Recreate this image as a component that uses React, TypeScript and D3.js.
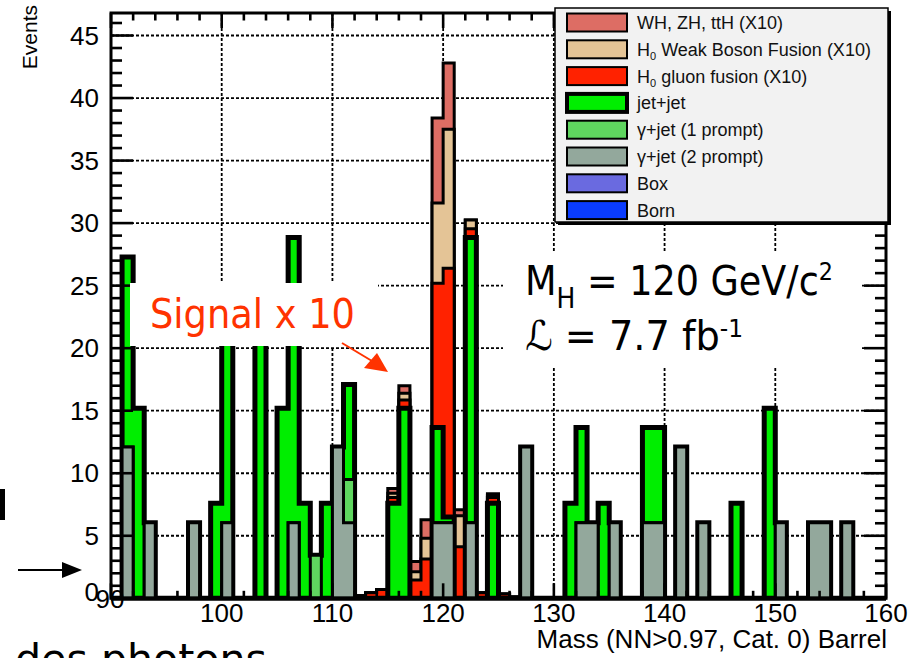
import React from 'react';
import * as d3 from 'd3';

// Diphoton invariant mass, 1 GeV bins from 90 to 160 GeV
const massMin = 90;
const massMax = 160;
const binLows = d3.range(massMin, massMax);

// [bin low edge (GeV), events] — empty bins omitted; signal already scaled x10
type Entry = [number, number];
const bornEvents: Entry[] = [];
const boxEvents: Entry[] = [];
const gammaJet2PromptEvents: Entry[] = [
  [91, 12.1], [93, 6.05], [97, 6.05], [100, 6.05], [106, 6.05], [110, 12.1], [111, 6.05],
  [119, 6.05], [120, 6.05], [122, 6.05], [127, 12.1], [132, 6.05], [133, 6.05], [135, 6.05],
  [138, 6.05], [139, 6.05], [141, 12.1], [143, 6.05], [150, 6.05], [153, 6.05], [154, 6.05],
  [156, 6.05],
];
const gammaJet1PromptEvents: Entry[] = [[108, 3.45], [111, 3.45]];
const jetJetEvents: Entry[] = [
  [91, 15.2], [92, 15.2], [99, 7.6], [100, 15.2], [103, 22.8], [105, 15.2], [106, 22.8],
  [107, 7.6], [109, 7.6], [111, 7.6], [115, 7.6], [116, 15.2], [119, 7.6], [120, 0.45],
  [122, 22.8], [124, 7.6], [131, 7.6], [132, 7.6], [134, 7.6], [138, 7.6], [139, 7.6],
  [146, 7.6], [149, 15.2],
];
const gluonFusionEvents: Entry[] = [
  [112, 0.2], [113, 0.45], [114, 0.7], [115, 0.45], [116, 0.65], [117, 1.46], [118, 3.14],
  [119, 11.55], [120, 19.9], [121, 4.13], [122, 0.7], [123, 0.45], [124, 0.45], [125, 0.35],
  [126, 0.1],
];
const weakBosonFusionEvents: Entry[] = [
  [115, 0.35], [116, 0.55], [117, 0.67], [118, 1.66], [119, 6.4], [120, 11.1], [121, 2.47],
  [122, 0.7], [124, 0.15],
];
const associatedEvents: Entry[] = [
  [115, 0.37], [116, 0.6], [117, 0.81], [118, 1.48], [119, 6.8], [120, 5.3], [121, 0.48],
  [124, 0.15],
];

const yTickLabels = [0, 5, 10, 15, 20, 25, 30, 35, 40, 45];
const xTickLabels = [90, 100, 110, 120, 130, 140, 150, 160];

// Stack order, bottom to top
const components = [
  { label: 'Born', color: '#0a3cff', line: 3, events: bornEvents },
  { label: 'Box', color: '#6a6ae0', line: 3, events: boxEvents },
  { label: 'γ+jet (2 prompt)', color: '#93a89c', line: 3, events: gammaJet2PromptEvents },
  { label: 'γ+jet (1 prompt)', color: '#5fd65f', line: 3, events: gammaJet1PromptEvents },
  { label: 'jet+jet', color: '#00ee00', line: 5, events: jetJetEvents },
  { label: 'H_0 gluon fusion (X10)', color: '#ff2200', line: 3, events: gluonFusionEvents },
  { label: 'H_0 Weak Boson Fusion (X10)', color: '#e4c496', line: 3, events: weakBosonFusionEvents },
  { label: 'WH, ZH, ttH (X10)', color: '#dd6d64', line: 3, events: associatedEvents },
];

const perBin = (entries: Entry[]) => {
  const m = new Map(entries);
  return binLows.map((b) => m.get(b) ?? 0);
};

const helv = "'Liberation Sans', Arial, Helvetica, sans-serif";
const slideFont = "'DejaVu Sans Condensed', 'DejaVu Sans', Verdana, sans-serif";

function LegendLabel({ text, x, y }: { text: string; x: number; y: number }) {
  if (text.startsWith('H_0')) {
    return (
      <text x={x} y={y} fontFamily={helv} fontSize={18} fill="#111">
        H
        <tspan fontSize={11} dy={4}>0</tspan>
        <tspan dy={-4}>{text.slice(3)}</tspan>
      </text>
    );
  }
  return (
    <text x={x} y={y} fontFamily={helv} fontSize={18} fill="#111">
      {text}
    </text>
  );
}

export default function App() {
  const x = d3.scaleLinear().domain([massMin, massMax]).range([111, 886]);
  const y = d3.scaleLinear().domain([0, 46.8]).range([598.3, 13]);

  // cumulative sums, bottom to top
  const cumulative: number[][] = [];
  let running = binLows.map(() => 0);
  components.forEach((c) => {
    const v = perBin(c.events);
    running = running.map((r, i) => r + v[i]);
    cumulative.push(running);
  });

  const area = d3
    .area<[number, number]>()
    .x((d) => x(d[0]))
    .y0(y(0))
    .y1((d) => y(d[1]))
    .curve(d3.curveStepAfter);

  const layers = components
    .map((c, k) => {
      const pts: [number, number][] = binLows.map((b, i) => [b, cumulative[k][i]]);
      pts.push([massMax, cumulative[k][binLows.length - 1]]);
      return { c, d: area(pts) as string };
    })
    .reverse();

  const [x0, x1] = x.range();
  const [y0, y1] = y.range();

  const yTicks = d3.range(0, 47);
  const xTicks = d3.range(massMin, massMax + 1, 2);
  const gridY = yTickLabels.filter((v) => v > 0);
  const gridX = xTickLabels.filter((v) => v > massMin && v < massMax);

  const legendRows = [...components].reverse();
  const lgX = 555, lgY = 8, lgW = 333, lgH = 214;

  return (
    <svg
      width={921}
      height={658}
      style={{ position: 'absolute', left: 0, top: 0, display: 'block', background: '#fff' }}
    >
      <rect x={0} y={0} width={921} height={658} fill="#fff" />

      {/* grid */}
      <g stroke="#000" strokeWidth={1.8} strokeDasharray="3 2">
        {gridY.map((v) => (
          <line key={'gy' + v} x1={x0} x2={x1} y1={y(v)} y2={y(v)} />
        ))}
        {gridX.map((v) => (
          <line key={'gx' + v} x1={x(v)} x2={x(v)} y1={y1} y2={y0} />
        ))}
      </g>

      {/* stacked histogram, drawn from the full sum downwards */}
      {layers.map(({ c, d }) => (
        <path
          key={c.label}
          d={d}
          fill={c.color}
          stroke="#000"
          strokeWidth={c.line}
          strokeLinejoin="miter"
        />
      ))}

      {/* frame and ticks */}
      <g stroke="#000" strokeWidth={2.6}>
        {yTicks.map((v) => {
          const len = v % 5 === 0 ? 22 : 11;
          return (
            <g key={'yt' + v}>
              <line x1={x0} x2={x0 + len} y1={y(v)} y2={y(v)} />
              <line x1={x1} x2={x1 - len} y1={y(v)} y2={y(v)} />
            </g>
          );
        })}
        {xTicks.map((v) => {
          const len = v % 10 === 0 ? 15 : 7.5;
          return (
            <g key={'xt' + v}>
              <line x1={x(v)} x2={x(v)} y1={y0} y2={y0 - len} />
              <line x1={x(v)} x2={x(v)} y1={y1} y2={y1 + len} />
            </g>
          );
        })}
        <rect x={x0} y={y1} width={x1 - x0} height={y0 - y1} fill="none" strokeWidth={3} />
      </g>

      {/* tick labels */}
      <g fontFamily={helv} fontSize={26} fill="#000">
        {yTickLabels.map((v) => (
          <text key={'yl' + v} x={99} y={v === 0 ? y(v) + 3 : y(v) + 9} textAnchor="end">
            {v}
          </text>
        ))}
        {xTickLabels.map((v) => (
          <text key={'xl' + v} x={v === massMin ? x(v) - 1 : x(v)} y={v === massMin ? 608 : 622} textAnchor="middle">
            {v}
          </text>
        ))}
      </g>
      <text
        transform="translate(37,5) rotate(-90)"
        textAnchor="end"
        fontFamily={helv}
        fontSize={21}
        fill="#000"
      >
        Events
      </text>
      <text x={887} y={648} textAnchor="end" fontFamily={helv} fontSize={26} fill="#000">
        Mass (NN&gt;0.97, Cat. 0) Barrel
      </text>

      {/* legend */}
      <rect x={lgX + 3} y={lgY + 3} width={lgW} height={lgH} fill="#000" />
      <rect x={lgX} y={lgY} width={lgW} height={lgH} fill="#f2f2f2" stroke="#000" strokeWidth={1.5} />
      {legendRows.map((c, i) => {
        const cy = 22.5 + i * 26.8;
        return (
          <g key={'lg' + c.label}>
            <rect
              x={567}
              y={cy - 9}
              width={60}
              height={18}
              fill={c.color}
              stroke="#000"
              strokeWidth={c.line > 3 ? 4 : 2}
            />
            <LegendLabel text={c.label} x={637} y={cy + 6.5} />
          </g>
        );
      })}

      {/* annotations */}
      <rect x={130} y={283} width={248} height={63} fill="#fff" />
      <text
        x={150}
        y={328}
        fontFamily={slideFont}
        fontSize={41}
        fill="#ff3300"
        textLength={205}
        lengthAdjust="spacingAndGlyphs"
      >
        Signal x 10
      </text>
      <line x1={342} y1={343} x2={372} y2={361} stroke="#ff3300" strokeWidth={2} />
      <path d="M388,372 L364,368 L377,353 Z" fill="#ff3300" />

      <rect x={503} y={253} width={359} height={115} fill="#fff" />
      <text
        x={525}
        y={295}
        fontFamily={slideFont}
        fontSize={41}
        fill="#000"
        textLength={308}
        lengthAdjust="spacingAndGlyphs"
      >
        M
        <tspan fontSize={28} dy={13}>H</tspan>
        <tspan dy={-13}> = 120 GeV/c</tspan>
        <tspan fontSize={25} dy={-15}>2</tspan>
      </text>
      <text
        x={525}
        y={350}
        fontFamily={slideFont}
        fontSize={41}
        fill="#000"
        textLength={218}
        lengthAdjust="spacingAndGlyphs"
      >
        ℒ = 7.7 fb
        <tspan fontSize={25} dy={-13}>-1</tspan>
      </text>

      <line x1={18} y1={570} x2={64} y2={570} stroke="#000" strokeWidth={2} />
      <path d="M62,562 L82,570 L62,578 Z" fill="#000" />
      <rect x={0} y={489} width={5} height={31} fill="#000" />
      <text
        x={15}
        y={673}
        fontFamily={slideFont}
        fontSize={41}
        fill="#000"
        textLength={252}
        lengthAdjust="spacingAndGlyphs"
      >
        des photons
      </text>
    </svg>
  );
}
